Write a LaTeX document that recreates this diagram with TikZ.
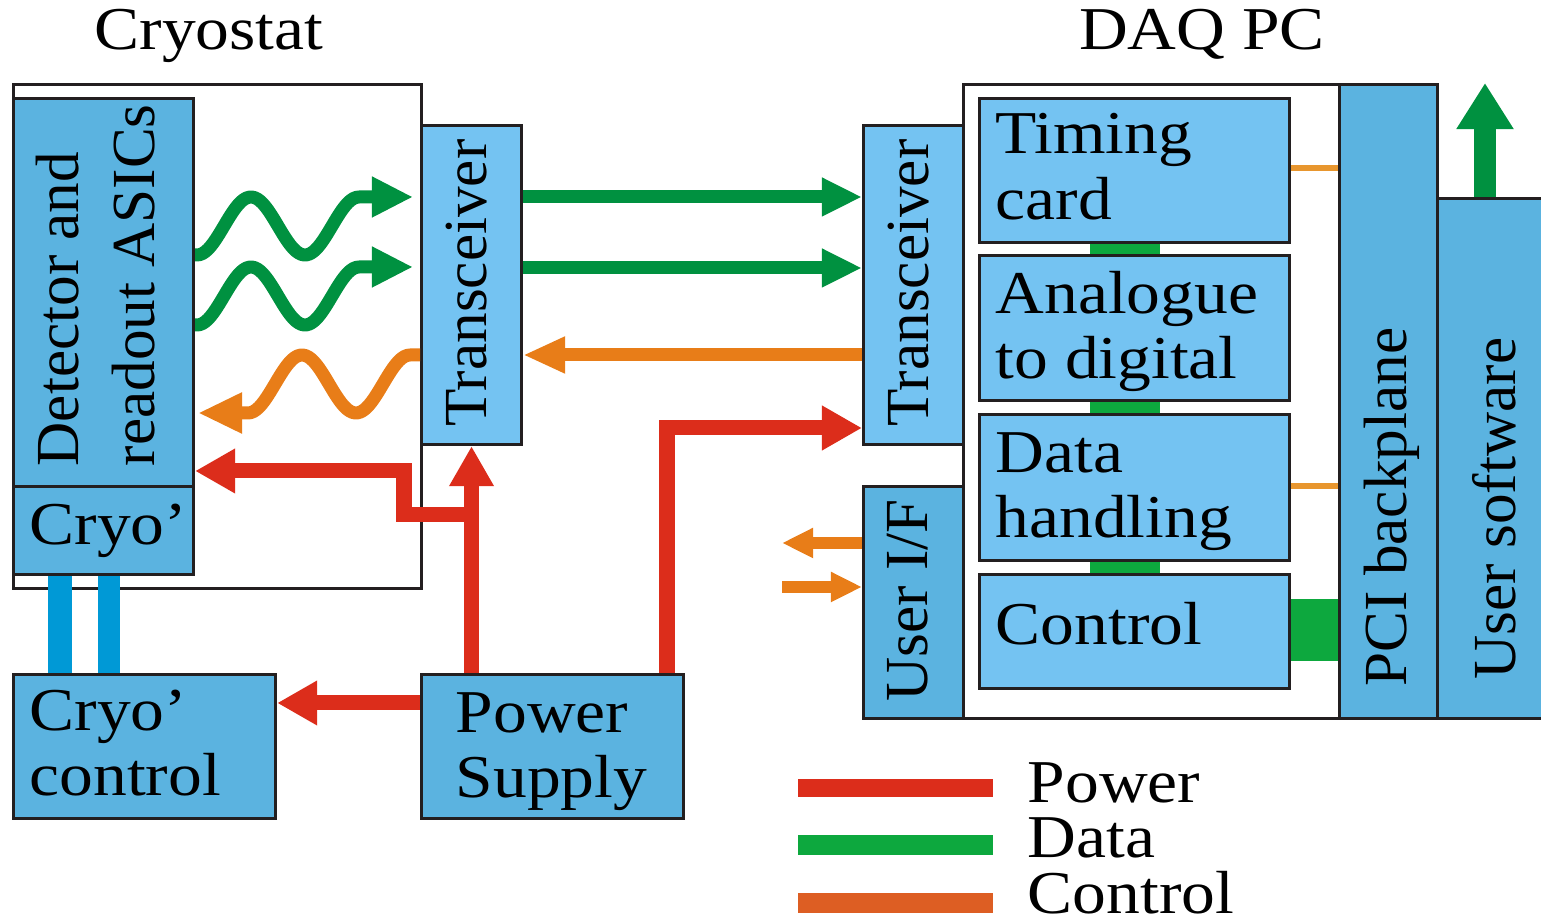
\documentclass[tikz,border=0pt]{standalone}
\usepackage{fontspec}
\setmainfont{Liberation Serif}
\newfontfamily\widefont{Liberation Serif}[FakeStretch=1.11]
\usetikzlibrary{arrows.meta}

\definecolor{edge}{RGB}{35,31,32}
\definecolor{boxdark}{RGB}{91,179,224}
\definecolor{boxlight}{RGB}{116,195,242}
\definecolor{pwrred}{RGB}{220,45,27}
\definecolor{datgreen}{RGB}{0,145,64}
\definecolor{busgreen}{RGB}{13,168,62}
\definecolor{ctlorange}{RGB}{232,125,24}
\definecolor{busorange}{RGB}{232,150,46}
\definecolor{keyorange}{RGB}{221,94,35}
\definecolor{cryoblue}{RGB}{0,153,214}

\begin{document}
\begin{tikzpicture}[x=0.01cm, y=-0.01cm,
    boxframe/.style={draw=edge, line width=0.03cm, fill=white, anchor=north west, inner sep=0pt},
    darkbox/.style={boxframe, fill=boxdark},
    lightbox/.style={boxframe, fill=boxlight},
    htext/.style={inner sep=0pt, align=left, font=\widefont\fontsize{17.3}{18.5}\selectfont},
    vtext/.style={inner sep=0pt, rotate=90, align=left, font=\fontsize{17.4}{21.6}\selectfont},
    powerline/.style={draw=pwrred, line width=0.15cm, -{Triangle[length=0.40cm,width=0.42cm]}},
    dataline/.style={draw=datgreen, line width=0.13cm, -{Triangle[length=0.40cm,width=0.36cm]}},
    ctrlline/.style={draw=ctlorange, line width=0.13cm, -{Triangle[length=0.42cm,width=0.34cm]}},
    wavegreen/.style={draw=datgreen, line width=0.13cm, line join=round, -{Triangle[length=0.41cm,width=0.38cm]}},
    waveorange/.style={draw=ctlorange, line width=0.13cm, line join=round, -{Triangle[length=0.44cm,width=0.38cm]}},
    uifline/.style={draw=ctlorange, line width=0.12cm, -{Triangle[length=0.31cm,width=0.28cm]}},
    cardlink/.style={draw=busgreen, line width=0.70cm},
    buslink/.style={draw=busorange, line width=0.06cm},
    cryoline/.style={draw=cryoblue},
  ]
  \useasboundingbox (0,0) rectangle (1541,922);

  % cryostat side
  \node[boxframe, minimum width=4.08cm, minimum height=5.04cm] (cryostat) at (12,83) {};
  \node[darkbox, minimum width=1.80cm, minimum height=3.88cm] (det) at (12,97) {};
  \node[darkbox, minimum width=1.80cm, minimum height=0.88cm] (cryo) at (12,485) {};
  \node[lightbox, minimum width=1.00cm, minimum height=3.19cm] (txl) at (420,124) {};
  \node[darkbox, minimum width=2.62cm, minimum height=1.44cm] (cryoctl) at (12,673) {};
  \node[darkbox, minimum width=2.62cm, minimum height=1.44cm] (psu) at (420,673) {};

  % DAQ PC side
  \node[boxframe, minimum width=3.76cm, minimum height=6.34cm] (daq) at (962,83) {};
  \node[lightbox, minimum width=1.00cm, minimum height=3.19cm] (txr) at (862,124) {};
  \node[darkbox, minimum width=1.00cm, minimum height=2.32cm] (uif) at (862,485) {};
  \node[lightbox, minimum width=3.10cm, minimum height=1.44cm] (timing) at (978,97) {};
  \node[lightbox, minimum width=3.10cm, minimum height=1.45cm] (adc) at (978,254) {};
  \node[lightbox, minimum width=3.10cm, minimum height=1.46cm] (dh) at (978,413) {};
  \node[lightbox, minimum width=3.10cm, minimum height=1.14cm] (ctrl) at (978,573) {};
  \node[darkbox, minimum width=0.98cm, minimum height=6.34cm] (pci) at (1338,83) {};
  \node[darkbox, minimum width=1.06cm, minimum height=5.20cm] (usw) at (1436,197) {};

  % texts
  \node[htext, anchor=base] (ttlcryo) at (209,50) {Cryostat};
  \node[htext, anchor=base] (ttldaq) at (1202,50) {DAQ PC};
  \node[vtext, anchor=north west] (tdet) at (35,467) {Detector and\\readout ASICs};
  \node[htext, anchor=base west] (tcryo) at (29,545) {Cryo’};
  \node[vtext, anchor=base west] (ttxl) at (486,427) {Transceiver};
  \node[htext, anchor=north west] (tcryoctl) at (29,689) {Cryo’\\control};
  \node[htext, anchor=north west] (tpsu) at (455,692) {Power\\Supply};
  \node[vtext, anchor=base west] (ttxr) at (928,427) {Transceiver};
  \node[vtext, anchor=base west] (tuif) at (927,702) {User I/F};
  \node[htext, anchor=north west] (ttiming) at (995,113) {Timing\\card};
  \node[htext, anchor=north west] (tadc) at (995,271) {Analogue\\to digital};
  \node[htext, anchor=north west] (tdh) at (995,432) {Data\\handling};
  \node[htext, anchor=base west] (tctrl) at (995,645) {Control};
  \node[vtext, anchor=base west] (tpci) at (1406,687) {PCI backplane};
  \node[vtext, anchor=base west] (tusw) at (1515,680) {User software};

  % wireless links inside the cryostat
  \coordinate (wave1) at (413,197);
  \coordinate (wave2) at (413,267);
  \coordinate (wave3) at (198,413);
  \draw[wavegreen] (det.east |- 0,255) -- (197,255)
    -- plot[domain=197:359, samples=60] (\x,{226+29*cos((\x-197)*10/3)}) -- (wave1);
  \draw[wavegreen] (det.east |- 0,325) -- (197,325)
    -- plot[domain=197:359, samples=60] (\x,{296+29*cos((\x-197)*10/3)}) -- (wave2);
  \draw[waveorange] (txl.west |- 0,355) -- (410,355)
    -- plot[domain=0:162, samples=60] ({410-\x},{384-29*cos(\x*10/3)}) -- (wave3);

  % transceiver to transceiver
  \draw[dataline] (txl.east |- 0,197) -- (txr.west |- 0,197);
  \draw[dataline] (txl.east |- 0,268) -- (txr.west |- 0,268);
  \draw[ctrlline] (txr.west |- 0,355) -- (txl.east |- 0,355);

  % power
  \draw[powerline] (psu.west |- 0,703) -- (cryoctl.east |- 0,703);
  \draw[powerline] (psu.north -| txl.south) -- (txl.south);
  \coordinate (split) at (txl.south |- 0,515);
  \draw[powerline] (split) -| (404,471) -- (det.east |- 0,471);
  \draw[powerline] (psu.north -| 667,0) |- (txr.west |- 0,428);

  % cryo lines
  \draw[cryoline, line width=0.24cm] (cryo.south -| 60,0) -- (cryoctl.north -| 60,0);
  \draw[cryoline, line width=0.22cm] (cryo.south -| 109,0) -- (cryoctl.north -| 109,0);

  % user interface
  \coordinate (uout) at (782,543);
  \coordinate (uin) at (782,587);
  \draw[uifline] (uif.west |- uout) -- (uout);
  \draw[uifline] (uin) -- (uif.west |- uin);

  % card bus
  \draw[cardlink] (timing.south -| 1125,0) -- (adc.north -| 1125,0);
  \draw[cardlink] (adc.south -| 1125,0) -- (dh.north -| 1125,0);
  \draw[cardlink] (dh.south -| 1125,0) -- (ctrl.north -| 1125,0);
  \draw[buslink] (timing.east |- 0,168) -- (pci.west |- 0,168);
  \draw[buslink] (dh.east |- 0,486) -- (pci.west |- 0,486);
  \draw[draw=busgreen, line width=0.62cm] (ctrl.east |- 0,630) -- (pci.west |- 0,630);

  % software output
  \coordinate (swout) at (1485,83);
  \draw[draw=datgreen, line width=0.22cm, -{Triangle[length=0.46cm,width=0.54cm]}] (usw.north -| swout) -- (swout);

  % legend
  \draw[draw=pwrred, line width=0.18cm] (798,788) -- (993,788);
  \draw[draw=busgreen, line width=0.20cm] (798,845) -- (993,845);
  \draw[draw=keyorange, line width=0.20cm] (798,903) -- (993,903);
  \node[htext, anchor=base west] (lpwr) at (1027,803) {Power};
  \node[htext, anchor=base west] (ldat) at (1027,858) {Data};
  \node[htext, anchor=base west] (lctl) at (1027,914) {Control};
\end{tikzpicture}
\end{document}
